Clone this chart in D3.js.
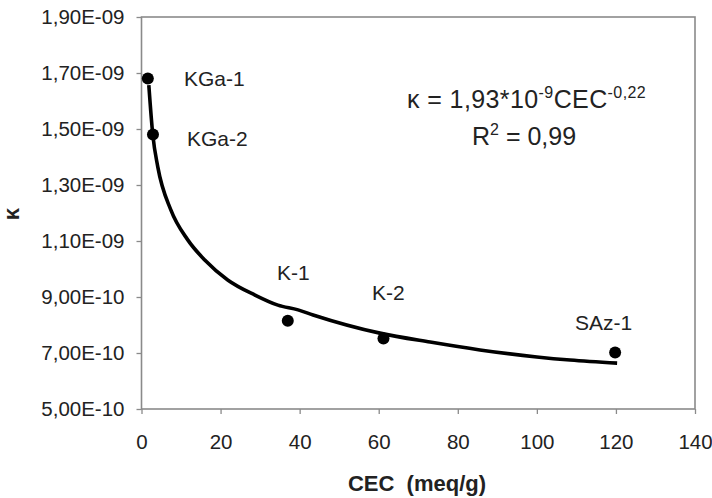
<!DOCTYPE html>
<html>
<head>
<meta charset="utf-8">
<script src="https://cdn.jsdelivr.net/npm/d3@7"></script>
<style>
  body { margin: 0; background: #fff; }
  svg { display: block; font-family: "Liberation Sans", Arial, sans-serif; }
</style>
</head>
<body>
<svg id="chart" width="712" height="498"></svg>
<script>
// samples
const samples = ["KGa-1", "KGa-2", "K-1", "K-2", "SAz-1"];
const cec = [1.6, 2.9, 37, 61.2, 119.8];
const kappa = [1.68e-9, 1.48e-9, 8.15e-10, 7.52e-10, 7.02e-10];

// power trendline
const fitCec = [1.85, 2.86, 4.13, 7.42, 11.7, 16.0, 21.8, 28.7, 34.5, 39.6, 43.4, 60.3, 73.0, 85.6, 100.0, 108.4, 120.3];
const fitKappa = [1.657e-9, 1.479e-9, 1.364e-9, 1.211e-9, 1.104e-9, 1.032e-9, 9.61e-10, 9.07e-10, 8.71e-10, 8.54e-10, 8.36e-10, 7.71e-10, 7.39e-10, 7.11e-10, 6.86e-10, 6.75e-10, 6.64e-10];

const xTicks = [0, 20, 40, 60, 80, 100, 120, 140];
const yTicks = [5e-10, 7e-10, 9e-10, 1.1e-9, 1.3e-9, 1.5e-9, 1.7e-9, 1.9e-9];

const svg = d3.select("#chart");
const plotL = 141.5, plotR = 695, plotT = 17, plotB = 409;

const x = d3.scaleLinear().domain([0, 140]).range([plotL, plotR]);
const y = d3.scaleLinear().domain([5e-10, 1.9e-9]).range([plotB, plotT]);

// excel style "1,90E-09"
const sci = v => {
  const e = Math.floor(Math.log10(v) + 1e-9);
  const m = (v / Math.pow(10, e)).toFixed(2).replace(".", ",");
  const sign = e < 0 ? "-" : "+";
  return m + "E" + sign + String(Math.abs(e)).padStart(2, "0");
};

const gray = "#8a8a8a";
const ink = "#222";

// plot frame
svg.append("rect")
  .attr("x", plotL).attr("y", plotT)
  .attr("width", plotR - plotL).attr("height", plotB - plotT)
  .attr("fill", "none").attr("stroke", gray).attr("stroke-width", 1.6);

const yAxis = svg.append("g")
  .attr("transform", `translate(${plotL},0)`)
  .call(d3.axisLeft(y).tickValues(yTicks).tickFormat(sci).tickSizeOuter(0).tickSize(5).tickPadding(12));

const xAxis = svg.append("g")
  .attr("transform", `translate(0,${plotB})`)
  .call(d3.axisBottom(x).tickValues(xTicks).tickSizeOuter(0).tickSize(5).tickPadding(20));

[yAxis, xAxis].forEach(g => {
  g.select(".domain").remove();
  g.selectAll(".tick line").attr("stroke", gray).attr("stroke-width", 1.3);
  g.selectAll(".tick text")
    .attr("fill", ink)
    .style("font-size", "20.5px");
});

// axis titles
svg.append("text")
  .attr("x", 417).attr("y", 491)
  .attr("text-anchor", "middle")
  .attr("fill", ink)
  .style("font-size", "22px").style("font-weight", "bold")
  .style("white-space", "pre")
  .text("CEC  (meq/g)");

svg.append("text")
  .attr("transform", "translate(19,214) rotate(-90)")
  .attr("text-anchor", "middle")
  .attr("fill", ink)
  .style("font-size", "22px").style("font-weight", "bold")
  .text("κ");

// trendline
const fit = fitCec.map((c, i) => [c, fitKappa[i]]);
svg.append("path")
  .datum(fit)
  .attr("fill", "none")
  .attr("stroke", "#000")
  .attr("stroke-width", 3.6)
  .attr("stroke-linejoin", "round")
  .attr("d", d3.line().x(d => x(d[0])).y(d => y(d[1])).curve(d3.curveMonotoneX));

// points
const pts = samples.map((s, i) => ({ name: s, c: cec[i], k: kappa[i] }));
svg.selectAll("circle.pt")
  .data(pts)
  .join("circle")
  .attr("class", "pt")
  .attr("cx", d => x(d.c))
  .attr("cy", d => y(d.k))
  .attr("r", 6)
  .attr("fill", "#000");

// point labels
const labelPos = [[184, 86], [187, 146], [277, 280], [372, 300], [575, 330]];
svg.selectAll("text.lbl")
  .data(pts)
  .join("text")
  .attr("class", "lbl")
  .attr("x", (d, i) => labelPos[i][0])
  .attr("y", (d, i) => labelPos[i][1])
  .attr("fill", ink)
  .style("font-size", "21px")
  .text(d => d.name);

// equation
const eq = svg.append("text")
  .attr("x", 407).attr("y", 108)
  .attr("fill", ink)
  .style("font-size", "25px")
  .style("letter-spacing", "0.4px");
eq.append("tspan").text("κ = 1,93*10");
eq.append("tspan").attr("dy", -10).style("font-size", "16px").text("-9");
eq.append("tspan").attr("dy", 10).text("CEC");
eq.append("tspan").attr("dy", -10).style("font-size", "16px").text("-0,22");

const r2 = svg.append("text")
  .attr("x", 472).attr("y", 145)
  .attr("fill", ink)
  .style("font-size", "25px");
r2.append("tspan").text("R");
r2.append("tspan").attr("dy", -10).style("font-size", "16px").text("2");
r2.append("tspan").attr("dy", 10).text(" = 0,99");
</script>
</body>
</html>
